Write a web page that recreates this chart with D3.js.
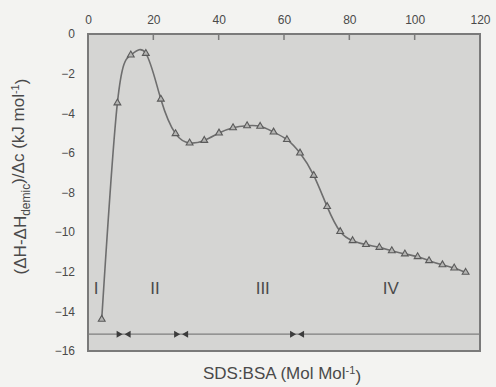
<!DOCTYPE html>
<meta charset="utf-8">
<script src="https://d3js.org/d3.v7.min.js"></script>
<style>
  body { margin: 0; background: #f3f3f1; }
  text { font-family: "Liberation Sans", Arial, sans-serif; fill: #4a4a4a; }
</style>
<div id="chart"></div>
<script>
// data
var ratio = [4.2, 9, 13.1, 17.7, 22.3, 26.8, 31.1, 35.6, 40.1, 44.4, 48.7, 52.7, 56.8, 60.9, 64.9,
             69.1, 73.2, 77.2, 81.0, 85.1, 89.2, 93.0, 97.0, 100.9, 104.4, 108.5, 112.1, 115.6];
var enthalpy = [-14.4, -3.48, -1.06, -0.98, -3.29, -5.03, -5.5, -5.37, -5.0, -4.73, -4.63, -4.66, -4.95, -5.33, -6.01,
                -7.14, -8.71, -9.97, -10.43, -10.63, -10.77, -10.94, -11.1, -11.24, -11.44, -11.65, -11.81, -12.03];
var xTicks = [0, 20, 40, 60, 80, 100, 120];
var yTicks = [0, -2, -4, -6, -8, -10, -12, -14, -16];
var boundaries = [10.9, 28.5, 64];
var regionNames = ["I", "II", "III", "IV"];
var regionPos = [2.5, 20.5, 53.5, 92.7];
var baseLine = -15.15;

var W = 496, H = 387;
var margin = {top: 34, right: 16, bottom: 36, left: 88};
var width = W - margin.left - margin.right,
    height = H - margin.top - margin.bottom;

var svg = d3.select("#chart").append("svg")
    .attr("width", W).attr("height", H)
  .append("g")
    .attr("transform", "translate(" + margin.left + "," + margin.top + ")");

var x = d3.scaleLinear().domain([0, 120]).range([0, width]);
var y = d3.scaleLinear().domain([0, -16]).range([0, height]);

// plot background
svg.append("rect")
    .attr("width", width).attr("height", height)
    .attr("fill", "#d5d5d3");

// top axis with labels
var xAxis = svg.append("g")
    .call(d3.axisTop(x).tickValues(xTicks).tickSize(0).tickPadding(10));
xAxis.select(".domain").remove();
xAxis.selectAll("text").style("font-size", "12px").attr("fill", "#4a4a4a");

// inward tick marks on top
svg.selectAll(".xtick")
    .data(xTicks.slice(1, -1))
    .enter().append("line")
    .attr("x1", function (d) { return x(d); })
    .attr("x2", function (d) { return x(d); })
    .attr("y1", 0).attr("y2", 6)
    .attr("stroke", "#7a7a7a").attr("stroke-width", 1.5);

// left axis labels
var yAxis = svg.append("g")
    .call(d3.axisLeft(y).tickValues(yTicks).tickSize(0).tickPadding(13));
yAxis.select(".domain").remove();
yAxis.selectAll("text").style("font-size", "12px").attr("fill", "#4a4a4a");

// frame
svg.append("rect")
    .attr("width", width).attr("height", height)
    .attr("fill", "none")
    .attr("stroke", "#7a7a7a").attr("stroke-width", 2);

// baseline with boundary arrows
svg.append("line")
    .attr("x1", 0).attr("x2", width)
    .attr("y1", y(baseLine)).attr("y2", y(baseLine))
    .attr("stroke", "#7e7e7e").attr("stroke-width", 1.3);

boundaries.forEach(function (b) {
    var cx = x(b), cy = y(baseLine);
    svg.append("path")
        .attr("d", "M" + (cx - 7) + "," + (cy - 3.5) + "L" + (cx - 1) + "," + cy + "L" + (cx - 7) + "," + (cy + 3.5) + "Z")
        .attr("fill", "#3c3c3c");
    svg.append("path")
        .attr("d", "M" + (cx + 7) + "," + (cy - 3.5) + "L" + (cx + 1) + "," + cy + "L" + (cx + 7) + "," + (cy + 3.5) + "Z")
        .attr("fill", "#3c3c3c");
});

// region labels
svg.selectAll(".region")
    .data(regionNames)
    .enter().append("text")
    .attr("x", function (d, i) { return x(regionPos[i]); })
    .attr("y", y(-12.8))
    .attr("dy", "0.35em")
    .attr("text-anchor", "middle")
    .style("font-size", "17px")
    .attr("fill", "#3a3a3a")
    .text(function (d) { return d; });

// curve
var pts = ratio.map(function (d, i) { return [d, enthalpy[i]]; });
var line = d3.line()
    .x(function (d) { return x(d[0]); })
    .y(function (d) { return y(d[1]); })
    .curve(d3.curveNatural);

svg.append("path")
    .datum(pts)
    .attr("d", line)
    .attr("fill", "none")
    .attr("stroke", "#6e6e6e")
    .attr("stroke-width", 1.6);

// open triangles
var sym = d3.symbol().type(d3.symbolTriangle).size(20);
svg.selectAll(".pt")
    .data(pts)
    .enter().append("path")
    .attr("d", sym)
    .attr("transform", function (d) { return "translate(" + x(d[0]) + "," + y(d[1]) + ")"; })
    .attr("fill", "#b5b5b3")
    .attr("stroke", "#5a5a5a")
    .attr("stroke-width", 1.1);

// axis titles
var xt = svg.append("text")
    .attr("x", width / 2 - 2)
    .attr("y", height + 28)
    .attr("text-anchor", "middle")
    .style("font-size", "17px");
xt.append("tspan").text("SDS:BSA (Mol Mol");
xt.append("tspan").attr("dy", "-0.5em").style("font-size", "11px").text("-1");
xt.append("tspan").attr("dy", "0.5em").text(")");

var yt = svg.append("text")
    .attr("transform", "translate(" + (-62) + "," + (height / 2 - 16) + ") rotate(-90)")
    .attr("text-anchor", "middle")
    .style("font-size", "17px");
yt.append("tspan").text("(\u0394H-\u0394H");
yt.append("tspan").attr("dy", "0.35em").style("font-size", "12px").text("demic");
yt.append("tspan").attr("dy", "-0.35em").text(")/\u0394c (kJ mol");
yt.append("tspan").attr("dy", "-0.5em").style("font-size", "11px").text("-1");
yt.append("tspan").attr("dy", "0.5em").text(")");
</script>
